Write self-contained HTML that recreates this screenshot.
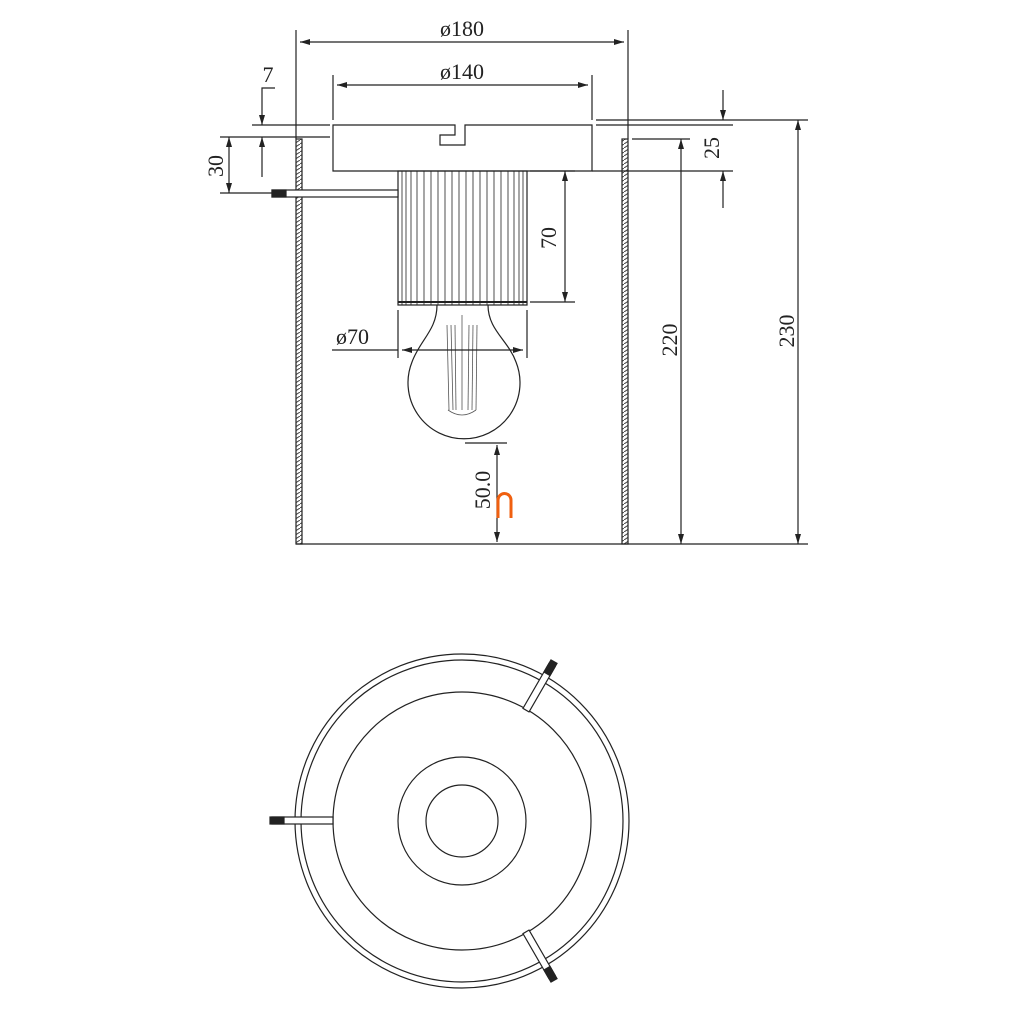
<!DOCTYPE html>
<html><head><style>html,body{margin:0;padding:0;background:#fff}svg{display:block}</style></head><body>
<svg width="1010" height="1010" viewBox="0 0 1010 1010" xmlns="http://www.w3.org/2000/svg">
<defs>
<marker id="a" markerWidth="10" markerHeight="6" refX="10" refY="3" orient="auto" markerUnits="userSpaceOnUse"><path d="M0,0 L10,3 L0,6z" fill="#222"/></marker>
<pattern id="h" width="6" height="4" patternUnits="userSpaceOnUse"><rect width="6" height="4" fill="#fff"/><path d="M0,4 L6,0" stroke="#444" stroke-width="1"/></pattern>
</defs>
<g stroke="#222" stroke-width="1.2" fill="none">
<rect x="296" y="139" width="6" height="405" fill="url(#h)"/>
<rect x="622" y="139" width="6" height="405" fill="url(#h)"/>
<line x1="296" y1="544" x2="628" y2="544"/>
<line x1="628" y1="544" x2="808" y2="544"/>
<path d="M333,125 H455 V135 H440 V145 H465 V125 H592 V171 H333 Z"/>
<rect x="398" y="171" width="129" height="134"/>
<g stroke-width="0.8">
<line x1="402" y1="171" x2="402" y2="305"/><line x1="406" y1="171" x2="406" y2="305"/><line x1="411" y1="171" x2="411" y2="305"/><line x1="417" y1="171" x2="417" y2="305"/><line x1="424" y1="171" x2="424" y2="305"/><line x1="431" y1="171" x2="431" y2="305"/><line x1="438" y1="171" x2="438" y2="305"/><line x1="445" y1="171" x2="445" y2="305"/><line x1="452" y1="171" x2="452" y2="305"/><line x1="459" y1="171" x2="459" y2="305"/><line x1="466" y1="171" x2="466" y2="305"/><line x1="473" y1="171" x2="473" y2="305"/><line x1="480" y1="171" x2="480" y2="305"/><line x1="487" y1="171" x2="487" y2="305"/><line x1="494" y1="171" x2="494" y2="305"/><line x1="501" y1="171" x2="501" y2="305"/><line x1="508" y1="171" x2="508" y2="305"/><line x1="514" y1="171" x2="514" y2="305"/><line x1="519" y1="171" x2="519" y2="305"/><line x1="523" y1="171" x2="523" y2="305"/>
</g>
<line x1="398" y1="302" x2="527" y2="302" stroke-width="2"/>
<rect x="272" y="190" width="126" height="7" fill="#fff"/>
<rect x="272" y="190" width="14" height="7" fill="#222"/>
<path d="M437,305 C437,330 420,340 412,362 A56,56 0 1 0 516,362 C508,340 488,330 488,305" />
<g stroke-width="0.8" stroke="#555">
<line x1="447" y1="325" x2="449" y2="410"/><line x1="451" y1="325" x2="453" y2="410"/><line x1="455" y1="325" x2="456" y2="410"/><line x1="462" y1="315" x2="462" y2="410"/><line x1="469" y1="325" x2="468" y2="410"/><line x1="473" y1="325" x2="472" y2="410"/><line x1="477" y1="325" x2="476" y2="410"/>
<path d="M448,410 Q462,420 476,410"/>
</g>
<line x1="296" y1="30" x2="296" y2="139"/><line x1="628" y1="30" x2="628" y2="139"/>
<line x1="462" y1="42" x2="300" y2="42" marker-end="url(#a)"/><line x1="462" y1="42" x2="624" y2="42" marker-end="url(#a)"/>
<line x1="333" y1="75" x2="333" y2="120"/><line x1="592" y1="75" x2="592" y2="120"/>
<line x1="462" y1="85" x2="588" y2="85" marker-end="url(#a)"/><line x1="462" y1="85" x2="337" y2="85" marker-end="url(#a)"/>
<line x1="252" y1="125" x2="330" y2="125"/>
<line x1="220" y1="137" x2="330" y2="137"/>
<line x1="220" y1="193" x2="272" y2="193"/>
<path d="M275,88 H262 V125" marker-end="url(#a)"/>
<line x1="262" y1="177" x2="262" y2="137" marker-end="url(#a)"/>
<line x1="229" y1="165" x2="229" y2="137" marker-end="url(#a)"/><line x1="229" y1="165" x2="229" y2="193" marker-end="url(#a)"/>
<line x1="596" y1="120" x2="808" y2="120"/>
<line x1="596" y1="125" x2="733" y2="125"/>
<line x1="632" y1="139" x2="690" y2="139"/>
<line x1="592" y1="171" x2="733" y2="171"/>
<line x1="723" y1="90" x2="723" y2="120" marker-end="url(#a)"/>
<line x1="723" y1="208" x2="723" y2="171" marker-end="url(#a)"/>
<line x1="681" y1="340" x2="681" y2="139" marker-end="url(#a)"/><line x1="681" y1="340" x2="681" y2="544" marker-end="url(#a)"/>
<line x1="798" y1="330" x2="798" y2="120" marker-end="url(#a)"/><line x1="798" y1="330" x2="798" y2="544" marker-end="url(#a)"/>
<line x1="530" y1="171" x2="575" y2="171"/><line x1="530" y1="302" x2="575" y2="302"/>
<line x1="565" y1="240" x2="565" y2="171" marker-end="url(#a)"/><line x1="565" y1="240" x2="565" y2="302" marker-end="url(#a)"/>
<line x1="398" y1="310" x2="398" y2="358"/><line x1="527" y1="310" x2="527" y2="358"/>
<line x1="332" y1="350" x2="398" y2="350"/>
<line x1="462" y1="350" x2="402" y2="350" marker-end="url(#a)"/><line x1="462" y1="350" x2="523" y2="350" marker-end="url(#a)"/>
<line x1="465" y1="443" x2="507" y2="443"/>
<line x1="497" y1="490" x2="497" y2="445" marker-end="url(#a)"/><line x1="497" y1="490" x2="497" y2="542" marker-end="url(#a)"/>
</g>
<path d="M498,518 V500 A6.5,6.5 0 0 1 511,500 V518" stroke="#f06010" stroke-width="3" fill="none"/>
<g font-family="Liberation Serif, serif" font-size="22" fill="#222">
<text x="462" y="36" text-anchor="middle">ø180</text>
<text x="462" y="79" text-anchor="middle">ø140</text>
<text x="268" y="82" text-anchor="middle">7</text>
<text x="336" y="344">ø70</text>
<text transform="translate(223,166) rotate(-90)" text-anchor="middle">30</text>
<text transform="translate(719,148) rotate(-90)" text-anchor="middle">25</text>
<text transform="translate(556,238) rotate(-90)" text-anchor="middle">70</text>
<text transform="translate(677,340) rotate(-90)" text-anchor="middle">220</text>
<text transform="translate(794,331) rotate(-90)" text-anchor="middle">230</text>
<text transform="translate(490,490) rotate(-90)" text-anchor="middle">50.0</text>
</g>
<g stroke="#222" stroke-width="1.2" fill="none">
<circle cx="462" cy="821" r="167"/>
<circle cx="462" cy="821" r="161"/>
<circle cx="462" cy="821" r="129"/>
<circle cx="462" cy="821" r="64"/>
<circle cx="462" cy="821" r="36"/>
<g fill="#fff">
<rect x="272" y="817" width="61" height="7"/>
<g transform="translate(462,821) rotate(-60)"><rect x="128" y="-3.5" width="52" height="7"/></g>
<g transform="translate(462,821) rotate(60)"><rect x="128" y="-3.5" width="52" height="7"/></g>
</g>
<rect x="270" y="817" width="14" height="7" fill="#222"/>
<g transform="translate(462,821) rotate(-60)"><rect x="170" y="-3.5" width="14" height="7" fill="#222"/></g>
<g transform="translate(462,821) rotate(60)"><rect x="170" y="-3.5" width="14" height="7" fill="#222"/></g>
</g>
</svg>
</body></html>
